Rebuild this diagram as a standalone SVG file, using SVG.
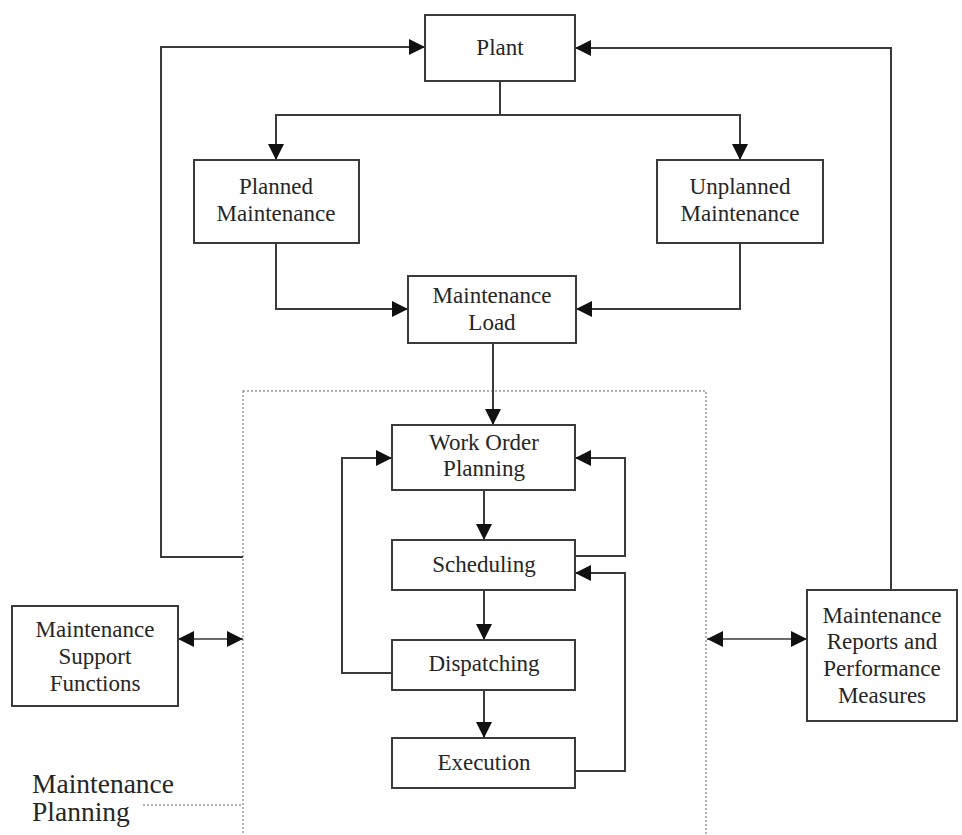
<svg xmlns="http://www.w3.org/2000/svg" width="962" height="835" viewBox="0 0 962 835">
  <defs>
    <style>
      .box { fill: #ffffff; stroke: #3a3a3a; stroke-width: 2; }
      .lbl { font-family: "Liberation Serif", "Times New Roman", serif; font-size: 23px; fill: #262626; text-anchor: middle; }
      .big { font-family: "Liberation Serif", "Times New Roman", serif; font-size: 27.5px; fill: #262626; }
      .wire { fill: none; stroke: #3a3a3a; stroke-width: 2; }
      .thin { fill: none; stroke: #3a3a3a; stroke-width: 1.5; }
      .frame { fill: none; stroke: #9a9a9a; stroke-width: 1.5; stroke-dasharray: 2 2; }
    </style>
    <marker id="head" viewBox="0 0 16 16" refX="16" refY="8" markerWidth="16" markerHeight="16" markerUnits="userSpaceOnUse" orient="auto-start-reverse">
      <path d="M0,0 L16,8 L0,16 z" fill="#111"/>
    </marker>
  </defs>

  <rect width="962" height="835" fill="#ffffff"/>

  <!-- dotted boundary of the planning area -->
  <g id="planning-area">
    <rect class="frame" x="243" y="391" width="463" height="460"/>
    <line class="frame" x1="143" y1="805" x2="243" y2="805"/>
    <text class="big" x="32" y="793">Maintenance</text>
    <text class="big" x="32" y="821">Planning</text>
  </g>

  <!-- connectors -->
  <g id="connectors">
    <!-- plant to planned / unplanned -->
    <path class="wire" d="M500,81 V115"/>
    <path class="wire" d="M500,115 H276 V160" marker-end="url(#head)"/>
    <path class="wire" d="M500,115 H740 V160" marker-end="url(#head)"/>
    <!-- into maintenance load -->
    <path class="wire" d="M276,243 V309 H408" marker-end="url(#head)"/>
    <path class="wire" d="M740,243 V309 H576" marker-end="url(#head)"/>
    <!-- load to work order planning -->
    <path class="wire" d="M493,343 V425" marker-end="url(#head)"/>
    <!-- vertical chain -->
    <path class="wire" d="M484,490 V540" marker-end="url(#head)"/>
    <path class="wire" d="M484,590 V640" marker-end="url(#head)"/>
    <path class="wire" d="M484,690 V738" marker-end="url(#head)"/>
    <!-- feedback loops -->
    <path class="wire" d="M575,556 H625 V458 H575" marker-end="url(#head)"/>
    <path class="wire" d="M575,771 H625 V573 H575" marker-end="url(#head)"/>
    <path class="wire" d="M392,673 H342 V458 H392" marker-end="url(#head)"/>
    <!-- outer loops back to plant -->
    <path class="wire" d="M243,557 H161 V47 H425" marker-end="url(#head)"/>
    <path class="wire" d="M891,590 V48 H575" marker-end="url(#head)"/>
    <!-- two-way links with side functions -->
    <path class="thin" d="M178,639 H243" marker-start="url(#head)" marker-end="url(#head)"/>
    <path class="thin" d="M707,639 H807" marker-start="url(#head)" marker-end="url(#head)"/>
  </g>

  <g id="plant">
    <rect class="box" x="425" y="15" width="150" height="66"/>
    <text class="lbl" x="500" y="55">Plant</text>
  </g>

  <g id="planned-maintenance">
    <rect class="box" x="194" y="160" width="165" height="83"/>
    <text class="lbl" x="276" y="194">Planned</text>
    <text class="lbl" x="276" y="221">Maintenance</text>
  </g>

  <g id="unplanned-maintenance">
    <rect class="box" x="657" y="160" width="166" height="83"/>
    <text class="lbl" x="740" y="194">Unplanned</text>
    <text class="lbl" x="740" y="221">Maintenance</text>
  </g>

  <g id="maintenance-load">
    <rect class="box" x="408" y="276" width="168" height="67"/>
    <text class="lbl" x="492" y="303">Maintenance</text>
    <text class="lbl" x="492" y="330">Load</text>
  </g>

  <g id="work-order-planning">
    <rect class="box" x="392" y="425" width="183" height="65"/>
    <text class="lbl" x="484" y="450">Work Order</text>
    <text class="lbl" x="484" y="476">Planning</text>
  </g>

  <g id="scheduling">
    <rect class="box" x="392" y="540" width="183" height="50"/>
    <text class="lbl" x="484" y="572">Scheduling</text>
  </g>

  <g id="dispatching">
    <rect class="box" x="392" y="640" width="183" height="50"/>
    <text class="lbl" x="484" y="671">Dispatching</text>
  </g>

  <g id="execution">
    <rect class="box" x="392" y="738" width="183" height="50"/>
    <text class="lbl" x="484" y="770">Execution</text>
  </g>

  <g id="support-functions">
    <rect class="box" x="12" y="606" width="166" height="100"/>
    <text class="lbl" x="95" y="637">Maintenance</text>
    <text class="lbl" x="95" y="664">Support</text>
    <text class="lbl" x="95" y="691">Functions</text>
  </g>

  <g id="reports-measures">
    <rect class="box" x="807" y="590" width="150" height="131"/>
    <text class="lbl" x="882" y="623">Maintenance</text>
    <text class="lbl" x="882" y="649">Reports and</text>
    <text class="lbl" x="882" y="676">Performance</text>
    <text class="lbl" x="882" y="703">Measures</text>
  </g>
</svg>
